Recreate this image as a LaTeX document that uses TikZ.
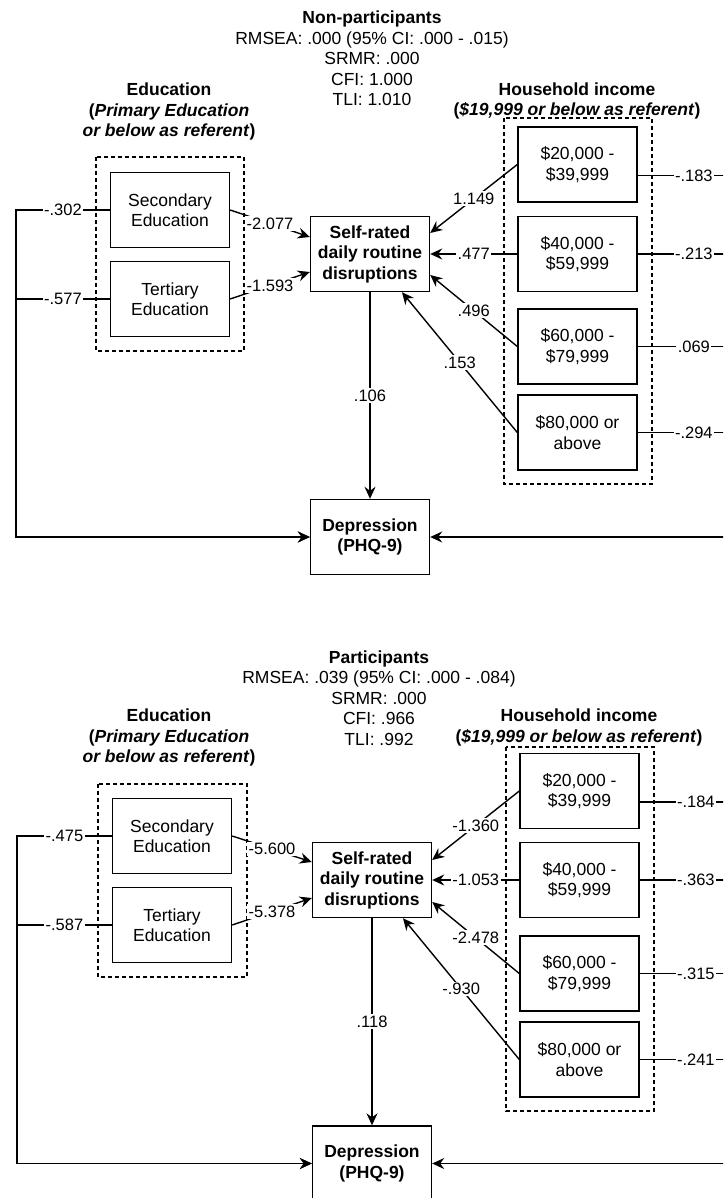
\documentclass[tikz,border=0pt]{standalone}
\usepackage{fontspec}
\setmainfont{Liberation Sans}
\usetikzlibrary{arrows.meta, calc}

\begin{document}
\begin{tikzpicture}[x=1pt, y=-1pt,
    every node/.style={font=\fontsize{17.5}{20.5}\selectfont},
    varbox/.style={draw, line width=1.4pt, fill=white, minimum width=119pt, minimum height=75pt, inner sep=0pt, align=center},
    outbox/.style={varbox, font=\fontsize{17.5}{20.5}\selectfont\bfseries},
    groupbox/.style={draw, line width=1.2pt, dash pattern=on 4pt off 3pt},
    heading/.style={align=center},
    effect/.style={line width=1.4pt, -{Stealth[length=12pt, width=11pt, inset=4pt]}},
    link/.style={line width=1.4pt},
    coef/.style={fill=white, inner sep=1.5pt, font=\fontsize{16.5}{18}\selectfont}
  ]
    \useasboundingbox (0,0) rectangle (723,1198);
    \clip (0,0) rectangle (723,1198);
    % Fit indices
    \node[heading] (np-fit) at (372,58.5) {\textbf{Non-participants}\\RMSEA: .000 (95\% CI: .000 - .015)\\SRMR: .000\\CFI: 1.000\\TLI: 1.010};
    \node[heading] (p-fit) at (379,698) {\textbf{Participants}\\RMSEA: .039 (95\% CI: .000 - .084)\\SRMR: .000\\CFI: .966\\TLI: .992};

    % Non-participants
    \node[heading, font=\fontsize{17.5}{20.5}\selectfont\bfseries] (np-edu) at (169,111.5) {Education\\(\textit{Primary Education}\\\textit{or below as referent})};
    \node[heading, font=\fontsize{17.5}{20.5}\selectfont\bfseries] (np-inc) at (577,101) {Household income\\(\textit{\$19,999 or below as referent})};
    \draw[groupbox] (96,157) rectangle (244,351);
    \draw[groupbox] (504,118) rectangle (652,484);
    \node[varbox] (np-sec) at (170,210) {Secondary\\Education};
    \node[varbox] (np-ter) at (170,299) {Tertiary\\Education};
    \node[outbox] (np-sr) at (370,254) {Self-rated\\daily routine\\disruptions};
    \node[outbox] (np-dep) at (370,537) {Depression\\(PHQ-9)};
    \node[varbox] (np-inc1) at (577.5,164.5) {\$20,000 -\\\$39,999};
    \node[varbox] (np-inc2) at (577.5,254) {\$40,000 -\\\$59,999};
    \node[varbox] (np-inc3) at (577.5,346.5) {\$60,000 -\\\$79,999};
    \node[varbox] (np-inc4) at (577.5,432.5) {\$80,000 or\\above};
    \coordinate (np-lbus) at (16,537);
    \coordinate (np-rbus) at (750,537);
    \coordinate (np-out1) at ([yshift=-11pt]np-inc1.east);
    \draw[effect] (np-sec.east) -- node[coef] {-2.077} ([yshift=17pt]np-sr.west);
    \draw[effect] (np-ter.east) -- node[coef] {-1.593} ([yshift=-18pt]np-sr.west);
    \draw[effect] (np-inc1.west) -- node[coef] {1.149} ([yshift=21pt]np-sr.east);
    \draw[effect] (np-inc2.west) -- node[coef] {.477} (np-sr.east);
    \draw[effect] (np-inc3.west) -- node[coef] {.496} ([yshift=-21pt]np-sr.east);
    \draw[effect] (np-inc4.west) -- node[coef] {.153} ([xshift=32pt]np-sr.south);
    \draw[effect] (np-sr) -- node[coef] {.106} (np-dep);
    \draw[effect] (np-sec.west) -- node[coef] {-.302} (np-sec.west -| np-lbus) |- (np-dep.west);
    \draw[effect] (np-ter.west) -- node[coef] {-.577} (np-ter.west -| np-lbus) |- (np-dep.west);
    \draw[link] (np-out1) -- node[coef] {-.183} (np-out1 -| np-rbus) -- (np-rbus);
    \draw[link] (np-inc2.east) -- node[coef] {-.213} (np-inc2.east -| np-rbus);
    \draw[link] (np-inc3.east) -- node[coef] {.069} (np-inc3.east -| np-rbus);
    \draw[link] (np-inc4.east) -- node[coef] {-.294} (np-inc4.east -| np-rbus);
    \draw[effect] (np-rbus) -- (np-dep.east);

    % Participants
    \begin{scope}[shift={(2,626)}]
    \node[heading, font=\fontsize{17.5}{20.5}\selectfont\bfseries] (p-edu) at (167,111.5) {Education\\(\textit{Primary Education}\\\textit{or below as referent})};
    \node[heading, font=\fontsize{17.5}{20.5}\selectfont\bfseries] (p-inc) at (577,101.5) {Household income\\(\textit{\$19,999 or below as referent})};
    \draw[groupbox] (96,158) rectangle (245,351);
    \draw[groupbox] (504,121) rectangle (652,485);
    \node[varbox] (p-sec) at (170,210) {Secondary\\Education};
    \node[varbox] (p-ter) at (170,299) {Tertiary\\Education};
    \node[outbox] (p-sr) at (370,254) {Self-rated\\daily routine\\disruptions};
    \node[outbox] (p-dep) at (370,537.5) {Depression\\(PHQ-9)};
    \node[varbox] (p-inc1) at (577.5,165) {\$20,000 -\\\$39,999};
    \node[varbox] (p-inc2) at (577.5,254) {\$40,000 -\\\$59,999};
    \node[varbox] (p-inc3) at (577.5,347.5) {\$60,000 -\\\$79,999};
    \node[varbox] (p-inc4) at (577.5,433.5) {\$80,000 or\\above};
    \coordinate (p-lbus) at (15,537.5);
    \coordinate (p-rbus) at (750,537.5);
    \coordinate (p-out1) at ([yshift=-11pt]p-inc1.east);
    \draw[effect] (p-sec.east) -- node[coef] {-5.600} ([yshift=18pt]p-sr.west);
    \draw[effect] (p-ter.east) -- node[coef] {-5.378} ([yshift=-18pt]p-sr.west);
    \draw[effect] (p-inc1.west) -- node[coef] {-1.360} ([yshift=20pt]p-sr.east);
    \draw[effect] (p-inc2.west) -- node[coef] {-1.053} (p-sr.east);
    \draw[effect] (p-inc3.west) -- node[coef] {-2.478} ([yshift=-22pt]p-sr.east);
    \draw[effect] (p-inc4.west) -- node[coef] {-.930} ([xshift=31pt]p-sr.south);
    \draw[effect] (p-sr) -- node[coef] {.118} (p-dep);
    \draw[effect] (p-sec.west) -- node[coef] {-.475} (p-sec.west -| p-lbus) |- (p-dep.west);
    \draw[effect] (p-ter.west) -- node[coef] {-.587} (p-ter.west -| p-lbus) |- (p-dep.west);
    \draw[link] (p-out1) -- node[coef] {-.184} (p-out1 -| p-rbus) -- (p-rbus);
    \draw[link] (p-inc2.east) -- node[coef] {-.363} (p-inc2.east -| p-rbus);
    \draw[link] (p-inc3.east) -- node[coef] {-.315} (p-inc3.east -| p-rbus);
    \draw[link] (p-inc4.east) -- node[coef] {-.241} (p-inc4.east -| p-rbus);
    \draw[effect] (p-rbus) -- (p-dep.east);
    \end{scope}
\end{tikzpicture}
\end{document}
